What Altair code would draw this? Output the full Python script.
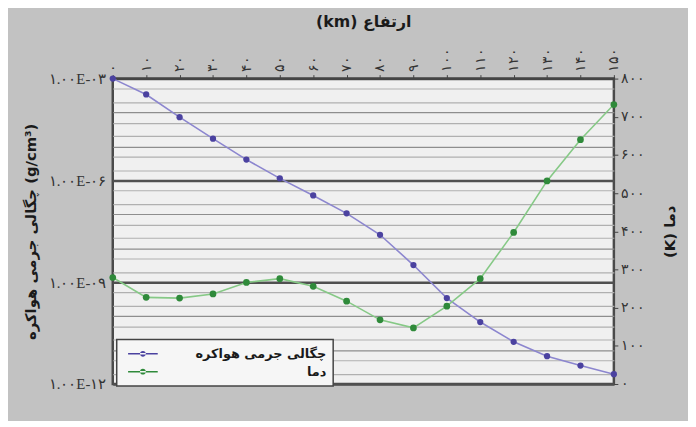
import altair as alt
import pandas as pd

# ---- data ----
altitude = [0, 10, 20, 30, 40, 50, 60, 70, 80, 90, 100, 110, 120, 130, 140, 150]
density = [1.0e-3, 3.4e-4, 7.3e-5, 1.7e-5, 4.1e-6, 1.15e-6, 3.6e-7, 1.07e-7,
           2.5e-8, 3.2e-9, 3.4e-10, 6.7e-11, 1.75e-11, 6.6e-12, 3.5e-12, 1.95e-12]
temperature = [279, 227, 225, 236, 266, 276, 256, 217, 168, 147, 204, 276, 397, 532, 640, 732]

series_names = ["چگالی جرمی هواکره", "دما"]
marker_colors = ["#4b42a0", "#2f8a3a"]
line_colors = ["#8c86cf", "#86c986"]

x_ticks = [0, 10, 20, 30, 40, 50, 60, 70, 80, 90, 100, 110, 120, 130, 140, 150]
x_labels = ["۰", "۱۰", "۲۰", "۳۰", "۴۰", "۵۰", "۶۰", "۷۰", "۸۰", "۹۰",
            "۱۰۰", "۱۱۰", "۱۲۰", "۱۳۰", "۱۴۰", "۱۵۰"]
dens_major = [1e-3, 1e-6, 1e-9, 1e-12]
dens_labels = ["۱.۰۰E-۰۳", "۱.۰۰E-۰۶", "۱.۰۰E-۰۹", "۱.۰۰E-۱۲"]
dens_decades = [1e-4, 1e-5, 1e-7, 1e-8, 1e-10, 1e-11]
dens_minor = [2e-4, 5e-4, 2e-5, 5e-5, 2e-6, 5e-6, 2e-7, 5e-7, 2e-8, 5e-8,
              2e-9, 5e-9, 2e-10, 5e-10, 2e-11, 5e-11, 2e-12, 5e-12]
temp_ticks = [0, 100, 200, 300, 400, 500, 600, 700, 800]
temp_labels = ["۰", "۱۰۰", "۲۰۰", "۳۰۰", "۴۰۰", "۵۰۰", "۶۰۰", "۷۰۰", "۸۰۰"]

x_title = "(km) ارتفاع"
dens_title = "چگالی جرمی هواکره (g/cm³)"
temp_title = "(K) دما"

# ---- tables ----
df_d = pd.DataFrame({"alt": altitude, "val": density, "series": series_names[0]})
df_t = pd.DataFrame({"alt": altitude, "val": temperature, "series": series_names[1]})


def js_list(vals):
    return "[" + ",".join(repr(v) if not isinstance(v, str) else "'" + v + "'" for v in vals) + "]"


def lookup_expr(vals, labels):
    return f"indexof({js_list(vals)}, datum.value) >= 0 ? {js_list(labels)}[indexof({js_list(vals)}, datum.value)] : ''"


FONT_LBL = "Liberation Serif"
FONT_TTL = "DejaVu Sans"

x_enc = alt.X(
    "alt:Q",
    scale=alt.Scale(domain=[0, 150], nice=False, zero=False),
    axis=alt.Axis(
        orient="top", values=x_ticks, labelExpr=lookup_expr(x_ticks, x_labels),
        labelAngle=-90, labelFont=FONT_LBL, labelFontSize=14, labelColor="#333333",
        labelPadding=3, tickSize=4, tickColor="#444444", domainColor="#444444",
        domainWidth=2, grid=False, title=x_title, titleFont=FONT_TTL,
        titleFontSize=16, titleFontWeight="bold", titleColor="#1a1a1a", titlePadding=19,
    ),
)

major_test = f"indexof({js_list(dens_major)}, datum.value) >= 0"
decade_test = f"indexof({js_list(dens_decades)}, datum.value) >= 0"

y_dens = alt.Y(
    "val:Q",
    scale=alt.Scale(type="log", domain=[1e-12, 1e-3], nice=False),
    axis=alt.Axis(
        orient="left", values=dens_major + dens_decades + dens_minor,
        labelExpr=lookup_expr(dens_major, dens_labels),
        labelFont=FONT_LBL, labelFontSize=15, labelColor="#333333",
        ticks=False, labelPadding=7, domain=False,
        grid=True,
        gridColor={"condition": [{"test": major_test, "value": "#505050"},
                                 {"test": decade_test, "value": "#8e8e8e"}],
                   "value": "#b0b0b0"},
        gridWidth={"condition": {"test": major_test, "value": 2.5}, "value": 1.2},
        title=dens_title, titleFont=FONT_TTL, titleFontSize=15,
        titleFontWeight="bold", titleColor="#1a1a1a", titlePadding=10,
    ),
)

y_temp = alt.Y(
    "val:Q",
    scale=alt.Scale(domain=[0, 800], nice=False),
    axis=alt.Axis(
        orient="right", values=temp_ticks, labelExpr=lookup_expr(temp_ticks, temp_labels),
        labelFont=FONT_LBL, labelFontSize=14, labelColor="#333333",
        tickSize=4, tickColor="#444444", domain=False, grid=False, labelPadding=3,
        title=temp_title, titleAngle=-90, titleFont=FONT_TTL, titleFontSize=15,
        titleFontWeight="bold", titleColor="#1a1a1a", titlePadding=33,
    ),
)

legend_path = ("M-2,-0.1L2,-0.1L2,0.1L-2,0.1Z "
               "M-0.4,0A0.4,0.4 0 1,0 0.4,0A0.4,0.4 0 1,0 -0.4,0Z")

color_enc = alt.Color(
    "series:N",
    scale=alt.Scale(domain=series_names, range=marker_colors),
    legend=alt.Legend(
        title=None, orient="none", legendX=4, legendY=264,
        symbolType=legend_path, symbolSize=225, symbolStrokeWidth=0,
        symbolOffset=12,
        labelAlign="right", labelOffset=178, labelFont=FONT_TTL,
        labelFontSize=13, labelFontWeight="bold", labelColor="#1a1a1a",
        rowPadding=3, padding=7, fillColor="#f6f6f6", strokeColor="#444444",
    ),
)

dens_line = alt.Chart(df_d).mark_line(color=line_colors[0], strokeWidth=1.6).encode(x=x_enc, y=y_dens)
dens_pts = alt.Chart(df_d).mark_point(filled=True, size=40, opacity=1).encode(x=x_enc, y=y_dens, color=color_enc)
temp_line = alt.Chart(df_t).mark_line(color=line_colors[1], strokeWidth=1.6).encode(x=x_enc, y=y_temp)
temp_pts = alt.Chart(df_t).mark_point(filled=True, size=46, opacity=1).encode(x=x_enc, y=y_temp, color=color_enc)

chart = (
    alt.layer(alt.layer(dens_line, dens_pts), alt.layer(temp_line, temp_pts))
    .resolve_scale(y="independent")
    .properties(
        width=507, height=309,
        padding={"left": 106, "top": 69, "right": 75, "bottom": 35},
        autosize=alt.AutoSizeParams(type="none"),
        background="#c2c2c2",
    )
    .configure_view(stroke="#4a4a4a", strokeWidth=2.5, fill="#f0f0f0")
    .configure_legend(strokeWidth=1.5)
)

chart.save("out.html", embed_options={"renderer": "svg", "actions": False})
